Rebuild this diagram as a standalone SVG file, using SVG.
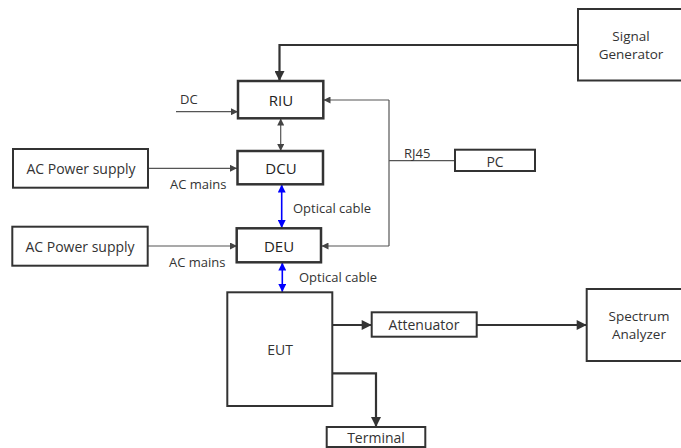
<svg xmlns="http://www.w3.org/2000/svg" width="681" height="448" viewBox="0 0 681 448">
<style>
.box{fill:#fff;stroke:#333;stroke-width:2}
.bbox{fill:#fff;stroke:#333;stroke-width:2.5}
.t{font-family:"Open Sans","Liberation Sans",sans-serif;font-size:14px;fill:#333;text-anchor:middle;dominant-baseline:central}
.t2{font-family:"Open Sans","Liberation Sans",sans-serif;font-size:13.5px;fill:#333;text-anchor:middle;dominant-baseline:central}
.tb{font-family:"Open Sans","Liberation Sans",sans-serif;font-size:15px;fill:#222;text-anchor:middle;dominant-baseline:central}
.lbl{font-family:"Open Sans","Liberation Sans",sans-serif;font-size:13px;fill:#333;dominant-baseline:central}
.thin{fill:none;stroke:#555;stroke-width:1.2}
.thick{fill:none;stroke:#333;stroke-width:2.2}
.blue{fill:none;stroke:#0000ff;stroke-width:1.6}
</style>
<defs>
<marker id="aS" markerUnits="userSpaceOnUse" viewBox="0 0 10 10" refX="10" refY="5" markerWidth="9" markerHeight="7" orient="auto-start-reverse"><path d="M0 0 L10 5 L0 10 Z" fill="#444"/></marker>
<marker id="aB" markerUnits="userSpaceOnUse" viewBox="0 0 10 10" refX="10" refY="5" markerWidth="8" markerHeight="8" orient="auto-start-reverse"><path d="M0 0 L10 5 L0 10 Z" fill="#0000ff"/></marker>
<marker id="aL" markerUnits="userSpaceOnUse" viewBox="0 0 10 10" refX="10" refY="5" markerWidth="14" markerHeight="10" orient="auto"><path d="M0 0 L10 5 L0 10 Z" fill="#333"/></marker>
</defs>
<g id="connectors">
<path class="thick" d="M578 45 H279.5 V81" marker-end="url(#aL)"/>
<path class="thin" d="M176 111.7 H238" marker-end="url(#aS)"/>
<path class="thin" d="M148 168.3 H237" marker-end="url(#aS)"/>
<path class="thin" d="M148 246 H237" marker-end="url(#aS)"/>
<path class="thin" d="M389 100 V246"/>
<path class="thin" d="M389 160.7 H455"/>
<path class="thin" d="M389 100 H323.5" marker-end="url(#aS)"/>
<path class="thin" d="M389 246 H321.5" marker-end="url(#aS)"/>
<path class="thin" d="M280.7 118.5 V151" marker-start="url(#aS)" marker-end="url(#aS)"/>
<path class="blue" d="M281.7 184.5 V228" marker-start="url(#aB)" marker-end="url(#aB)"/>
<path class="blue" d="M282.3 262.5 V292" marker-start="url(#aB)" marker-end="url(#aB)"/>
<path class="thick" d="M332 325 H371.7" marker-end="url(#aL)"/>
<path class="thick" d="M476.7 325 H586.7" marker-end="url(#aL)"/>
<path class="thick" d="M332 373.3 H376 V427" marker-end="url(#aL)"/>
<text class="lbl" x="180" y="99">DC</text>
<text class="lbl" x="170" y="184">AC mains</text>
<text class="lbl" x="169" y="261.7">AC mains</text>
<text class="lbl" x="293" y="208.3">Optical cable</text>
<text class="lbl" x="299" y="276.7">Optical cable</text>
<text class="lbl" x="404" y="153.3">RJ45</text>
</g>
<g id="siggen"><rect class="box" x="578" y="9" width="110" height="71.5"/><text class="t2" x="631" y="35.5">Signal</text><text class="t2" x="631" y="54">Generator</text></g>
<g id="riu"><rect class="bbox" x="238" y="81" width="85.3" height="37.3"/><text class="tb" x="281" y="99.5">RIU</text></g>
<g id="dcu"><rect class="bbox" x="237.5" y="151" width="85.5" height="33.3"/><text class="tb" x="281" y="168">DCU</text></g>
<g id="deu"><rect class="bbox" x="236.7" y="228.3" width="84.3" height="34"/><text class="tb" x="279" y="245.5">DEU</text></g>
<g id="ac1"><rect class="box" x="13" y="149" width="135" height="38.7"/><text class="t" x="81" y="168">AC Power supply</text></g>
<g id="ac2"><rect class="box" x="12.3" y="226.7" width="135.4" height="39"/><text class="t" x="80" y="246">AC Power supply</text></g>
<g id="pc"><rect class="box" x="455" y="149.7" width="80" height="21.3"/><text class="t" x="495" y="161">PC</text></g>
<g id="eut"><rect class="box" x="227.3" y="292.3" width="105" height="113.7"/><text class="t" x="280" y="349.3">EUT</text></g>
<g id="attenuator"><rect class="box" x="371.7" y="312.3" width="105" height="24.4"/><text class="t" x="424" y="324.5">Attenuator</text></g>
<g id="spectrum"><rect class="box" x="586.7" y="289" width="106" height="72"/><text class="t2" x="639" y="315.5">Spectrum</text><text class="t2" x="639" y="334">Analyzer</text></g>
<g id="terminal"><rect class="box" x="326.7" y="427" width="98.6" height="20"/><text class="t" x="376" y="437">Terminal</text></g>
</svg>
